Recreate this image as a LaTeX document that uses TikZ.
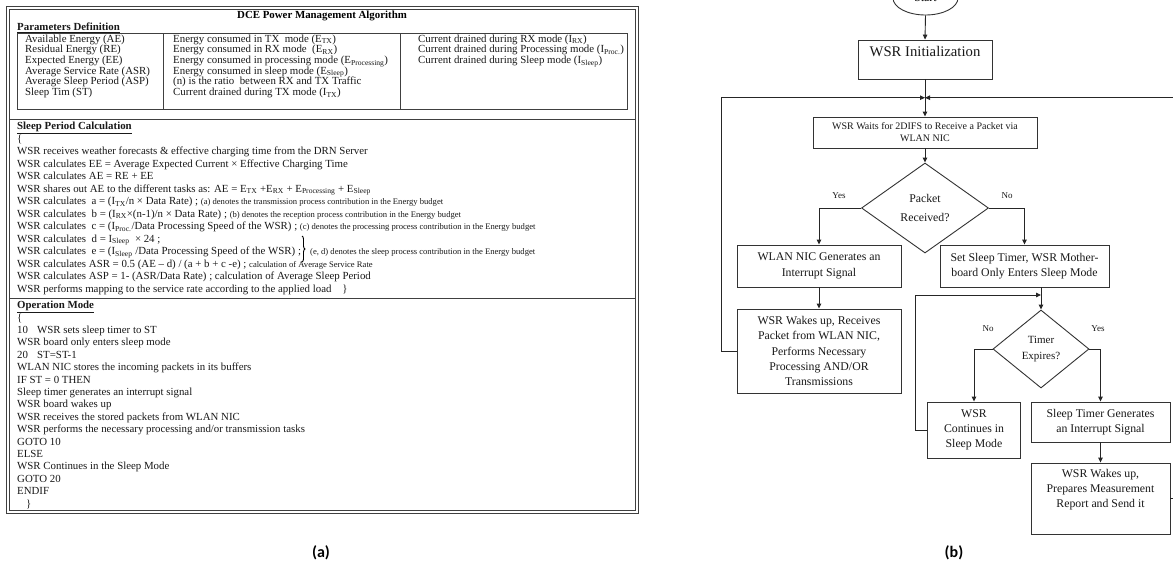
\documentclass[tikz,border=0pt]{standalone}
\usepackage{fontspec}
\setmainfont{Liberation Serif}
\newfontfamily\capfont{Carlito}
\usetikzlibrary{arrows.meta,shapes.geometric,decorations.pathreplacing}
\newcommand\tf{\fontsize{10.85}{12}\selectfont}
\newcommand\pf{\fontsize{11.2}{12}\selectfont}
\newcommand\cmf{\fontsize{8.6}{9}\selectfont}
\newcommand\bxf{\fontsize{11.8}{15.3}\selectfont}
\newcommand\tln[4]{\node[tl] (#1) at (#2,#3) {#4};}
\newcommand\sub[1]{\textsubscript{#1}}
\tikzset{
  tl/.style={anchor=base west, inner sep=0pt, font=\tf, text=black!90},
  tbl/.style={draw=black!75, line width=0.7pt},
  box/.style={draw=black!80, line width=0.9pt, align=center, font=\bxf, inner sep=1pt, text=black!90},
  dia/.style={diamond, draw=black!80, line width=0.9pt, align=center, inner sep=0pt, font=\bxf, text=black!90},
  arr/.style={draw=black!85, line width=0.9pt, -{Triangle[length=5pt,width=4.5pt]}},
  yn/.style={font=\fontsize{9}{10}\selectfont, inner sep=0pt, text=black!90},
  captxt/.style={font=\capfont\bfseries\fontsize{16}{18}\selectfont, inner sep=0pt}
}
\begin{document}
\begin{tikzpicture}[x=1pt,y=-1pt]
\useasboundingbox (0,0) rectangle (1173,574);
\clip (0,0) rectangle (1173,574);
\fill[white] (0,0) rectangle (1173,574);

% ---------------- (a) table ----------------
\draw[tbl] (6,6) rectangle (638,513);
\draw[tbl] (9,9) rectangle (635,510);
\draw[tbl] (17,33) rectangle (627,109);
\draw[tbl] (163,33) -- (163,109);
\draw[tbl] (400,33) -- (400,109);
\draw[tbl] (9,119) -- (635,119);
\draw[tbl] (9,298) -- (635,298);

\node[anchor=base, inner sep=0pt, font=\tf\bfseries] (title) at (322,18.5) {DCE Power Management Algorithm};
\tln{ph}{17}{30.5}{\textbf{\underline{Parameters Definition}}}

\begin{scope}[every node/.append style={font=\pf}]
\tln{p11}{25}{42}{Available Energy (AE)}
\tln{p12}{25}{52.7}{Residual Energy (RE)}
\tln{p13}{25}{63.4}{Expected Energy (EE)}
\tln{p14}{25}{74.1}{Average Service Rate (ASR)}
\tln{p15}{25}{84.8}{Average Sleep Period (ASP)}
\tln{p16}{25}{95.5}{Sleep Tim (ST)}
\tln{p21}{173}{42}{Energy consumed in TX\ \ mode (E\sub{TX})}
\tln{p22}{173}{52.7}{Energy consumed in RX mode\ \ (E\sub{RX})}
\tln{p23}{173}{63.4}{Energy consumed in processing mode (E\sub{Processing})}
\tln{p24}{173}{74.1}{Energy consumed in sleep mode (E\sub{Sleep})}
\tln{p25}{173}{84.8}{(n) is the ratio\ \ between RX and TX Traffic}
\tln{p26}{173}{95.5}{Current drained during TX mode (I\sub{TX})}
\tln{p31}{418}{42}{Current drained during RX mode (I\sub{RX})}
\tln{p32}{418}{52.7}{Current drained during Processing mode (I\sub{Proc.})}
\tln{p33}{418}{63.4}{Current drained during Sleep mode (I\sub{Sleep})}
\end{scope}

\tln{s0}{17}{129.5}{\textbf{\underline{Sleep Period Calculation}}}
\tln{s1}{17}{142}{\{}
\tln{s2}{17}{154.5}{WSR receives weather forecasts \& effective charging time\ from the DRN Server}
\tln{s3}{17}{167}{WSR calculates EE = Average Expected Current × Effective Charging Time}
\tln{s4}{17}{179.5}{WSR calculates AE = RE + EE}
\tln{s5}{17}{192}{WSR shares out AE to the different tasks as: AE = E\sub{TX} +E\sub{RX}\ + E\sub{Processing}\ + E\sub{Sleep}}
\tln{s6}{17}{204.5}{WSR calculates\ \ a = (I\sub{TX}/n × Data Rate) ; {\cmf (a) denotes the transmission process\ contribution in the Energy\ budget}}
\tln{s7}{17}{217}{WSR calculates\ \ b = (I\sub{RX}×(n-1)/n × Data Rate) ; {\cmf (b) denotes the reception\ process contribution in the Energy\ budget}}
\tln{s8}{17}{229.5}{WSR calculates\ \ c = (I\sub{Proc.}/Data Processing Speed of the WSR) ; {\cmf (c) denotes the processing\ process contribution in the Energy budget}}
\tln{s9}{17}{242}{WSR calculates\ \ d = I\sub{Sleep}\ \ × 24 ;}
\tln{s10}{17}{254.5}{WSR calculates\ \ e = (I\sub{Sleep} /Data Processing Speed of the WSR) ;}
\draw[decorate, decoration={brace, amplitude=3pt}, line width=0.9pt] (302,236) -- (302,262);
\node[tl, font=\cmf] (s10c) at (310,254.5) {(e, d) denotes the sleep process contribution in the Energy budget};
\tln{s11}{17}{267}{WSR calculates ASR = 0.5 (AE – d) / (a + b + c -e) ; {\cmf calculation of Average Service Rate}}
\tln{s12}{17}{279.5}{WSR calculates ASP = 1- (ASR/Data Rate) ; calculation of Average Sleep Period}
\tln{s13}{17}{292}{WSR performs mapping to the service rate according to the applied load\ \ \ \ \}}

\tln{o0}{17}{308.5}{\textbf{\underline{Operation Mode}}}
\tln{o1}{17}{321}{\{}
\tln{o2a}{17}{333.5}{10}
\tln{o2b}{37}{333.5}{WSR sets sleep timer to ST}
\tln{o3}{17}{345.9}{WSR board only enters sleep mode}
\tln{o4a}{17}{358.3}{20}
\tln{o4b}{37}{358.3}{ST=ST-1}
\tln{o5}{17}{370.7}{WLAN NIC stores the incoming packets in its buffers}
\tln{o6}{17}{383.1}{IF ST = 0 THEN}
\tln{o7}{17}{395.5}{Sleep timer generates an interrupt signal}
\tln{o8}{17}{407.9}{WSR board wakes up}
\tln{o9}{17}{420.3}{WSR receives the stored packets from WLAN NIC}
\tln{o10}{17}{432.7}{WSR performs the necessary processing and/or transmission tasks}
\tln{o11}{17}{445.1}{GOTO 10}
\tln{o12}{17}{457.5}{ELSE}
\tln{o13}{17}{469.9}{WSR Continues in the Sleep Mode}
\tln{o14}{17}{482.3}{GOTO 20}
\tln{o15}{17}{494.7}{ENDIF}
\tln{o16}{26}{507.1}{\}}

\node[captxt] (capa) at (321,553) {(a)};

% ---------------- (b) flowchart ----------------
\node[ellipse, draw=black!80, line width=0.9pt, minimum width=65pt, minimum height=34pt, inner sep=0pt, font=\bxf] (start) at (925.5,-2) {Start};
\node[box, minimum width=134pt, minimum height=39pt] (init) at (925,59.5) {};
\node[inner sep=0pt, font=\fontsize{14.7}{16}\selectfont, text=black!90] (initt) at (925,52) {WSR Initialization};
\coordinate (junc) at (925,97.7);
\node[box, minimum width=224pt, minimum height=31pt, font=\fontsize{10}{12}\selectfont] (wait) at (925,132.5) {WSR Waits for 2DIFS to Receive a Packet via\\WLAN NIC};
\node[dia, minimum width=127pt, minimum height=90pt] (pkt) at (925,208) {Packet\\[3pt]Received?};
\node[box, minimum width=164pt, minimum height=42pt] (wlan) at (819,266) {WLAN NIC Generates an\\Interrupt Signal};
\node[box, minimum width=164pt, minimum height=84pt] (wk) at (819,351) {WSR Wakes up, Receives\\Packet from WLAN NIC,\\Performs Necessary\\Processing AND/OR\\Transmissions};
\node[box, minimum width=169pt, minimum height=42pt] (sst) at (1024.5,266) {Set Sleep Timer, WSR Mother-\\board Only Enters Sleep Mode};
\node[dia, minimum width=96pt, minimum height=78pt, font=\fontsize{11}{16}\selectfont] (tmr) at (1041,349) {Timer\\Expires?};
\coordinate (tj) at (1041,295);
\node[box, minimum width=93pt, minimum height=56pt] (cont) at (974,430) {WSR\\Continues in\\Sleep Mode};
\node[box, minimum width=139pt, minimum height=40pt] (stg) at (1100.5,422) {Sleep Timer Generates\\an Interrupt Signal};
\node[box, minimum width=139pt, minimum height=71pt] (wk2) at (1100.5,498.5) {};
\node[font=\bxf, align=center, inner sep=0pt, anchor=north, text=black!90] (wk2t) at (1100.5,469) {WSR Wakes up,\\Prepares Measurement\\Report and Send it};

\draw[arr] (start.south) -- (init.north);
\draw[arr] (init.south) -- (wait.north);
\draw[arr] (wk.west) -- ++(-15,0) |- (junc);
\draw[arr] (wk2.east) -- ++(20,0) |- (junc);
\draw[arr] (wait.south) -- (pkt.north);
\draw[arr] (pkt.west) -| (wlan.north);
\draw[arr] (pkt.east) -| (sst.north);
\draw[arr] (wlan.south) -- (wk.north);
\draw[arr] (sst.south -| tmr.north) -- (tmr.north);
\draw[arr] (cont.west) -- ++(-12,0) |- (tj);
\draw[arr] (tmr.west) -| (cont.north);
\draw[arr] (tmr.east) -| (stg.north);
\draw[arr] (stg.south) -- (wk2.north);

\node[yn] (y1) at (839,196) {Yes};
\node[yn] (n1) at (1007,196) {No};
\node[yn] (n2) at (988,329) {No};
\node[yn] (y2) at (1098,329) {Yes};

\node[captxt] (capb) at (954,553) {(b)};
\end{tikzpicture}
\end{document}
